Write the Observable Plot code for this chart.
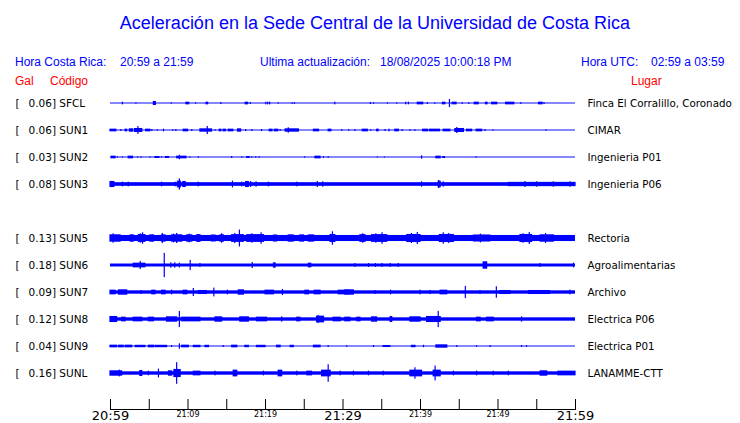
<!DOCTYPE html>
<html>
<head>
<meta charset="utf-8">
<script src="https://cdn.jsdelivr.net/npm/d3@7"></script>
<script src="https://cdn.jsdelivr.net/npm/@observablehq/plot@0.6"></script>
<style>
  body { margin: 0; background: #fff; }
  #chart { position: relative; width: 740px; height: 423px; background: #fff; font-family: "Liberation Sans", Arial, sans-serif; overflow: hidden; }
  .t { position: absolute; white-space: pre; line-height: 14px; font-size: 12px; }
  .blue { color: #0000ff; }
  .red { color: #ff0000; }
  #title { position: absolute; left: 0; width: 750px; text-align: center; top: 13px; font-size: 18px; line-height: 20px; color: #0000ff; }
  #plot { position: absolute; left: 0; top: 90px; }
</style>
</head>
<body>
<div id="chart">
  <div id="title"></div>
  <span class="t blue" id="h1" style="left:15px;top:55px"></span>
  <span class="t blue" id="h2" style="left:120px;top:55px"></span>
  <span class="t blue" id="h3" style="left:260px;top:55px"></span>
  <span class="t blue" id="h4" style="left:380px;top:55px"></span>
  <span class="t blue" id="h5" style="left:581px;top:55px"></span>
  <span class="t blue" id="h6" style="left:651px;top:55px"></span>
  <span class="t red" id="c1" style="left:15px;top:74px"></span>
  <span class="t red" id="c2" style="left:50px;top:74px"></span>
  <span class="t red" id="c3" style="left:631px;top:74px"></span>
  <div id="plot"></div>
</div>
<script>
// ---------- texts ----------
const titleText = "Aceleración en la Sede Central de la Universidad de Costa Rica";
const headerTexts = ["Hora Costa Rica:", "20:59 a 21:59", "Ultima actualización:", "18/08/2025 10:00:18 PM", "Hora UTC:", "02:59 a 03:59"];
const columnTexts = ["Gal", "Código", "Lugar"];

// ---------- stations ----------
const codes  = ["SFCL", "SUN1", "SUN2", "SUN3", "SUN5", "SUN6", "SUN7", "SUN8", "SUN9", "SUNL"];
const peaks  = [0.06, 0.06, 0.03, 0.08, 0.13, 0.18, 0.09, 0.12, 0.04, 0.16];
const places = ["Finca El Corralillo, Coronado", "CIMAR", "Ingenieria P01", "Ingenieria P06", "Rectoria",
                "Agroalimentarias", "Archivo", "Electrica P06", "Electrica P01", "LANAMME-CTT"];
// row order of the display (SUN4 slot is empty)
const rowOrder = ["SFCL", "SUN1", "SUN2", "SUN3", "SUN4", "SUN5", "SUN6", "SUN7", "SUN8", "SUN9", "SUNL"];
// background noise level (gal, half amplitude)
const noise = [0.007, 0.007, 0.007, 0.027, 0.045, 0.022, 0.025, 0.025, 0.007, 0.025];

// ---------- time axis (minutes after 20:59) ----------
const timeDomain = [0, 60];
const tickMinutes = [0, 5, 10, 15, 20, 25, 30, 35, 40, 45, 50, 55, 60];
const majorTicks = [0, 30, 60];
const majorLabels = ["20:59", "21:29", "21:59"];
const minorTicks = [10, 20, 40, 50];
const minorLabels = ["21:09", "21:19", "21:39", "21:49"];

// ---------- events: [start minute, end minute, half amplitude gal] ----------
const evSFCL = [[1.6,1.6,.02],[3.35,3.35,.01],[5.6,5.85,.03],[7.9,7.9,.01],[9.8,10.15,.02],[11.05,11.05,.01],[12.4,12.6,.02],[14.3,14.3,.015],[17.45,17.75,.02],[18.1,18.1,.015],[20.1,20.1,.02],[20.35,20.35,.02],[20.6,20.6,.02],[21.7,21.7,.01],[23.5,23.5,.012],[23.8,23.8,.012],[29,29,.02],[33.6,33.6,.015],[34,34,.01],[35.8,35.8,.01],[37,37,.01],[38.15,38.15,.02],[38.5,38.5,.02],[39.65,40.35,.02],[40.95,40.95,.015],[41.9,41.9,.01],[42.9,43.2,.02],[43.8,43.8,.06],[44.15,44.65,.02],[45.45,45.45,.012],[46.3,46.3,.012],[47,47.5,.02],[48.45,48.65,.02],[49.25,49.9,.02],[51.05,52.1,.02],[53,53,.012],[55.3,55.75,.02],[56,56,.015]];
const evSUN1 = [[0,0.75,.02],[1.4,1.4,.015],[1.95,2.15,.02],[2.5,2.9,.025],[3.15,4.1,.03],[3.6,3.6,.058],[4.6,5.15,.02],[5.4,5.4,.015],[6.1,6.1,.012],[6.9,6.9,.02],[8.1,8.1,.012],[8.5,8.5,.015],[9.45,10,.02],[10.55,10.55,.015],[11.6,13.1,.025],[12.55,12.55,.06],[13.55,13.55,.012],[14.1,14.3,.02],[14.6,14.9,.02],[15.25,15.85,.02],[16.45,16.85,.025],[17.5,17.5,.015],[18.3,18.3,.015],[19.55,19.55,.015],[20.55,20.9,.02],[21.2,21.65,.02],[21.95,21.95,.015],[22.6,24.3,.025],[23,23,.04],[26.25,26.9,.02],[28.15,28.5,.02],[29.9,29.9,.012],[30.8,30.8,.012],[31.6,31.6,.015],[32.55,33.2,.02],[33.65,33.65,.012],[34.4,34.6,.02],[35.5,35.5,.015],[36,36,.02],[36.75,37.2,.02],[37.7,37.7,.015],[38.7,38.7,.012],[39.35,39.35,.012],[40.35,40.95,.02],[41.2,42.5,.02],[43,43.85,.02],[44.5,45.6,.03],[44.75,44.75,.045],[46,46.65,.02],[47.25,47.95,.02],[48.4,48.4,.015],[49.4,49.4,.01],[56.25,56.25,.01]];
const evSUN2 = [[0.15,0.65,.02],[0.95,0.95,.01],[1.6,1.6,.01],[2.35,2.9,.02],[3.55,3.55,.01],[4,4,.01],[5.15,5.15,.01],[5.8,6.3,.015],[6.65,6.65,.01],[7.15,7.55,.015],[8.6,9.8,.02],[8.95,8.95,.033],[10.3,10.3,.01],[11.4,11.4,.01],[15.7,15.7,.015],[17,17,.01],[17.65,17.95,.015],[18.3,18.3,.01],[18.8,18.8,.01],[19.25,19.25,.01],[25.1,25.1,.01],[26.45,27.1,.02],[27.55,27.55,.012],[28.15,28.15,.012],[34.5,34.5,.008],[35.4,35.4,.008],[40.2,40.2,.025],[42.05,42.6,.02],[42.95,43.15,.015],[47.25,47.25,.01]];
const evSUN3 = [[0,0.5,.045],[1.6,1.6,.035],[2.35,2.35,.035],[6.65,6.65,.035],[8.4,8.4,.035],[8.7,9.1,.05],[8.95,8.95,.084],[9.4,9.7,.045],[11.4,11.4,.035],[15.8,15.8,.05],[17,17,.035],[17.5,17.85,.045],[18.15,18.15,.045],[18.85,18.85,.04],[20.45,20.45,.035],[24.1,24.1,.035],[26.75,26.75,.045],[27.45,27.45,.04],[40.2,40.2,.04],[42.35,42.6,.05],[42.4,42.4,.06],[43,43,.04],[51.4,60,.032],[53.55,53.55,.045],[55.05,55.05,.04],[57.2,57.2,.04],[59.35,59.35,.04]];
const evSUN5 = [[0,1.3,.055],[0.4,0.4,.07],[2.6,3,.055],[3.65,4.5,.058],[4.2,4.2,.085],[3.9,3.9,.07],[5.15,5.6,.055],[6.65,7.1,.055],[6.75,6.75,.075],[7.95,9.25,.055],[8.6,8.6,.075],[8.2,8.2,.065],[9.9,10.55,.055],[10.2,10.2,.065],[11.2,11.6,.058],[13.1,13.55,.052],[14.2,14.6,.056],[14.4,14.4,.07],[15.7,17.2,.058],[16.1,16.1,.075],[16.7,16.7,.125],[17.65,19.8,.058],[18.3,18.3,.07],[19.5,19.5,.085],[21.1,21.5,.052],[23,23.65,.054],[24.5,24.95,.054],[25.6,26.25,.054],[28.4,29,.06],[28.7,28.7,.1],[32.25,32.9,.058],[32.6,32.6,.07],[33.75,35.7,.058],[35.1,35.1,.085],[34.3,34.3,.07],[38.3,40,.06],[39.65,39.65,.09],[38.9,38.9,.075],[42.5,44.3,.06],[43,43,.085],[43.7,43.7,.075],[46.9,49,.052],[47.8,47.8,.065],[52.9,54.4,.06],[54.1,54.1,.09],[53.3,53.3,.07],[55.5,57.2,.055],[56.2,56.2,.075]];
const evSUN6 = [[3,4.5,.035],[3.9,3.9,.06],[7,7,.18],[7.85,7.85,.04],[8.35,8.35,.04],[8.95,8.95,.035],[10.35,10.35,.075],[11.6,11.6,.03],[18.35,18.35,.045],[21.1,21.3,.04],[25.6,25.9,.035],[31.6,31.6,.03],[33.35,33.35,.03],[34.25,34.25,.03],[35.1,35.1,.03],[36.15,36.15,.03],[37.2,37.2,.03],[48.15,48.6,.055],[55.5,55.5,.03],[59.8,59.8,.035]];
const evSUN7 = [[0,0.65,.035],[1.1,2.15,.04],[4,4,.03],[5.4,5.8,.035],[6.65,7.1,.035],[7.95,7.95,.035],[9.45,9.9,.035],[10.75,10.75,.06],[11.4,12.45,.03],[13.4,13.4,.065],[15.15,15.15,.035],[16.55,17.2,.04],[20,21.1,.035],[22.25,22.25,.045],[25.15,25.6,.035],[26.35,27.1,.035],[29.45,30.75,.035],[30.3,31.4,.04],[34.2,34.2,.03],[36.2,36.2,.035],[40,40,.035],[41.3,41.3,.03],[42.6,43.45,.035],[45.85,45.85,.09],[47.75,47.75,.03],[49.85,49.85,.085],[50.3,51.6,.03],[54,56.7,.03],[59.35,59.35,.035]];
const evSUN8 = [[0,0.85,.045],[1.5,1.95,.035],[3,4.1,.035],[4.95,5.6,.035],[7.3,8.6,.04],[8.95,8.95,.12],[9.25,11.6,.035],[13.55,14.4,.04],[16.75,17.85,.04],[18.9,20.2,.035],[22.15,22.15,.04],[24.1,24.5,.035],[26.65,27.55,.05],[26.85,26.85,.06],[28.8,29.7,.035],[30.3,30.95,.035],[31.85,32.25,.035],[33.75,34.4,.04],[36.15,36.35,.045],[38.7,40,.04],[40.85,42.6,.045],[42.35,42.35,.12],[47.3,47.75,.035],[48.6,49.45,.035],[53.1,53.1,.04]];
const evSUN9 = [[0,0.85,.02],[1.1,1.7,.02],[1.95,2.8,.02],[3.25,4.5,.018],[4.95,5.6,.02],[5.8,7.3,.018],[7.95,7.95,.015],[8.95,8.95,.04],[9.25,10.1,.02],[10.75,11.6,.018],[12.25,12.7,.018],[14.6,14.6,.015],[15.7,16.35,.02],[17.4,17.85,.018],[18.9,20,.018],[21.5,21.95,.02],[23.25,23.65,.018],[26.25,27.1,.02],[28.15,28.15,.015],[30.55,30.55,.012],[34,34,.015],[35.25,36.1,.015],[38.9,39.35,.018],[40.45,40.45,.018],[42.05,43.45,.025],[44.75,44.75,.015],[47.3,47.3,.012],[49.05,49.05,.015],[53.1,53.1,.015],[53.75,53.75,.012]];
const evSUNL = [[0,1.5,.04],[1.2,1.2,.05],[3.85,4.1,.045],[4.95,4.95,.035],[6.25,6.25,.065],[7.55,7.95,.04],[8.25,9.05,.06],[8.6,8.6,.16],[10.75,11.6,.035],[13.55,13.55,.035],[15.9,16.35,.05],[19.8,19.8,.035],[21.7,22.15,.05],[24.1,24.1,.035],[25.4,26,.035],[27.3,28.4,.05],[28.15,28.15,.13],[29.7,29.7,.035],[31.4,31.4,.035],[33.35,33.35,.035],[35.25,35.25,.035],[38.7,40.2,.05],[39.35,39.35,.085],[41.7,42.6,.05],[41.95,41.95,.11],[44.3,44.3,.035],[47.3,47.3,.035],[49.45,49.45,.035],[51.4,51.4,.035],[55.5,56.35,.04],[57.8,60,.035]];
const eventLists = [evSFCL, evSUN1, evSUN2, evSUN3, evSUN5, evSUN6, evSUN7, evSUN8, evSUN9, evSUNL];

// ---------- build ----------
document.getElementById("title").textContent = titleText;
["h1","h2","h3","h4","h5","h6"].forEach((id, i) => document.getElementById(id).textContent = headerTexts[i]);
["c1","c2","c3"].forEach((id, i) => document.getElementById(id).textContent = columnTexts[i]);

const ROW = 0.4; // gal between trace baselines
const BLUE = "#0000ff";
const rows = codes.map((c, i) => ({
  code: c, peak: peaks[i], place: places[i], base: noise[i],
  y: rowOrder.indexOf(c) * ROW
}));
const events = rows.flatMap((r, i) => eventLists[i].map(([a, b, amp]) => ({a, b, amp, y0: r.y})));

const FONT = "DejaVu Sans";
const chart = Plot.plot({
  width: 740,
  height: 333,
  marginLeft: 110,
  marginRight: 165,
  marginTop: 0,
  marginBottom: 14,
  style: {background: "transparent", fontFamily: FONT, color: "#000", overflow: "visible"},
  x: {domain: timeDomain},
  y: {domain: [0, (rowOrder.length - 1) * ROW], range: [13, 283], axis: null},
  marks: [
    Plot.rect(rows, {x1: () => timeDomain[0], x2: () => timeDomain[1], y1: d => d.y - d.base, y2: d => d.y + d.base, fill: BLUE}),
    Plot.rect(events, {x1: "a", x2: "b", y1: d => d.y0 - d.amp, y2: d => d.y0 + d.amp, fill: BLUE, insetLeft: -0.6, insetRight: -0.6}),
    Plot.text(rows, {y: "y", frameAnchor: "left", dx: -95, text: () => "[", textAnchor: "start", fontSize: 10.5, fill: "#000"}),
    Plot.text(rows, {y: "y", frameAnchor: "left", dx: -82, text: d => `${d.peak.toFixed(2)}] ${d.code}`, textAnchor: "start", fontSize: 10.5, fill: "#000"}),
    Plot.text(rows, {y: "y", frameAnchor: "right", dx: 12, text: "place", textAnchor: "start", fontSize: 10.3, fill: "#000"}),
    Plot.ruleX(tickMinutes, {x: d => d, insetTop: 309, stroke: "#000"}),
    Plot.frame({anchor: "bottom", stroke: "#000"}),
    Plot.axisX(majorTicks, {tickSize: 0, tickPadding: 1.5, tickFormat: (d) => majorLabels[majorTicks.indexOf(d)], fontSize: 13, fontWeight: "normal", fontFamily: FONT}),
    Plot.axisX(minorTicks, {tickSize: 0, tickPadding: 1.5, tickFormat: (d) => minorLabels[minorTicks.indexOf(d)], fontSize: 8, fontWeight: "normal", fontFamily: FONT})
  ]
});
document.getElementById("plot").appendChild(chart);
</script>
</body>
</html>
